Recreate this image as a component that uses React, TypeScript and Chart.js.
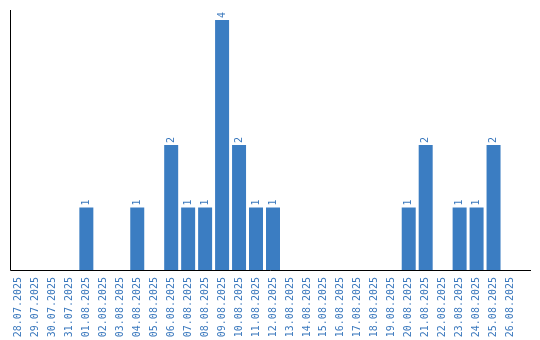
import React, { useEffect, useRef } from "react";
import { Chart, registerables } from "chart.js";

Chart.register(...registerables);

const dates = [
  "28.07.2025", "29.07.2025", "30.07.2025", "31.07.2025", "01.08.2025",
  "02.08.2025", "03.08.2025", "04.08.2025", "05.08.2025", "06.08.2025",
  "07.08.2025", "08.08.2025", "09.08.2025", "10.08.2025", "11.08.2025",
  "12.08.2025", "13.08.2025", "14.08.2025", "15.08.2025", "16.08.2025",
  "17.08.2025", "18.08.2025", "19.08.2025", "20.08.2025", "21.08.2025",
  "22.08.2025", "23.08.2025", "24.08.2025", "25.08.2025", "26.08.2025",
];

const counts = [
  0, 0, 0, 0, 1,
  0, 0, 1, 0, 2,
  1, 1, 4, 2, 1,
  1, 0, 0, 0, 0,
  0, 0, 0, 1, 2,
  0, 1, 1, 2, 0,
];

const BLUE = "#3b7dc2";
const TEXT_BLUE = "#3a78bd";
const FONT = "DejaVu Sans Mono";

const axesPlugin = {
  id: "customAxes",
  afterDatasetsDraw(chart: any) {
    const { ctx, chartArea } = chart;
    ctx.save();
    ctx.strokeStyle = "#000";
    ctx.lineWidth = 1;
    ctx.beginPath();
    const x0 = Math.round(chartArea.left) + 0.5;
    const y0 = Math.round(chartArea.bottom) + 0.5;
    ctx.moveTo(x0, Math.round(chartArea.top));
    ctx.lineTo(x0, y0);
    ctx.lineTo(531, y0);
    ctx.stroke();
    ctx.restore();
  },
};

const valueLabelPlugin = {
  id: "valueLabels",
  afterDatasetsDraw(chart: any) {
    const { ctx } = chart;
    const meta = chart.getDatasetMeta(0);
    const data = chart.data.datasets[0].data as number[];
    ctx.save();
    ctx.fillStyle = TEXT_BLUE;
    ctx.font = `10px "${FONT}"`;
    ctx.textAlign = "left";
    ctx.textBaseline = "middle";
    meta.data.forEach((bar: any, i: number) => {
      const v = data[i];
      if (!v) return;
      ctx.save();
      ctx.translate(bar.x, bar.y - 2);
      ctx.rotate(-Math.PI / 2);
      ctx.fillText(String(v), 0, 0);
      ctx.restore();
    });
    ctx.restore();
  },
};

export default function App() {
  const ref = useRef<HTMLCanvasElement | null>(null);

  useEffect(() => {
    if (!ref.current) return;
    const chart = new Chart(ref.current, {
      type: "bar",
      data: {
        labels: dates,
        datasets: [
          {
            data: counts,
            backgroundColor: BLUE,
            borderWidth: 0,
            categoryPercentage: 1,
            barPercentage: 0.825,
          },
        ],
      },
      options: {
        animation: false,
        responsive: false,
        layout: { padding: { left: 10, top: 10, right: 21, bottom: 0 } },
        plugins: { legend: { display: false }, tooltip: { enabled: false } },
        scales: {
          x: {
            grid: { display: false, drawTicks: false },
            border: { display: false },
            ticks: {
              color: TEXT_BLUE,
              font: { family: FONT, size: 10 },
              minRotation: 90,
              maxRotation: 90,
              autoSkip: false,
              padding: 7,
            },
            afterFit(scale: any) {
              scale.height = 70;
            },
          },
          y: {
            display: false,
            min: 0,
            max: 4.16,
          },
        },
      },
      plugins: [axesPlugin, valueLabelPlugin],
    });
    return () => chart.destroy();
  }, []);

  return (
    <div style={{ position: "fixed", left: 0, top: 0, width: 540, height: 340, background: "#fff" }}>
      <canvas ref={ref} width={540} height={340} style={{ display: "block" }} />
    </div>
  );
}
